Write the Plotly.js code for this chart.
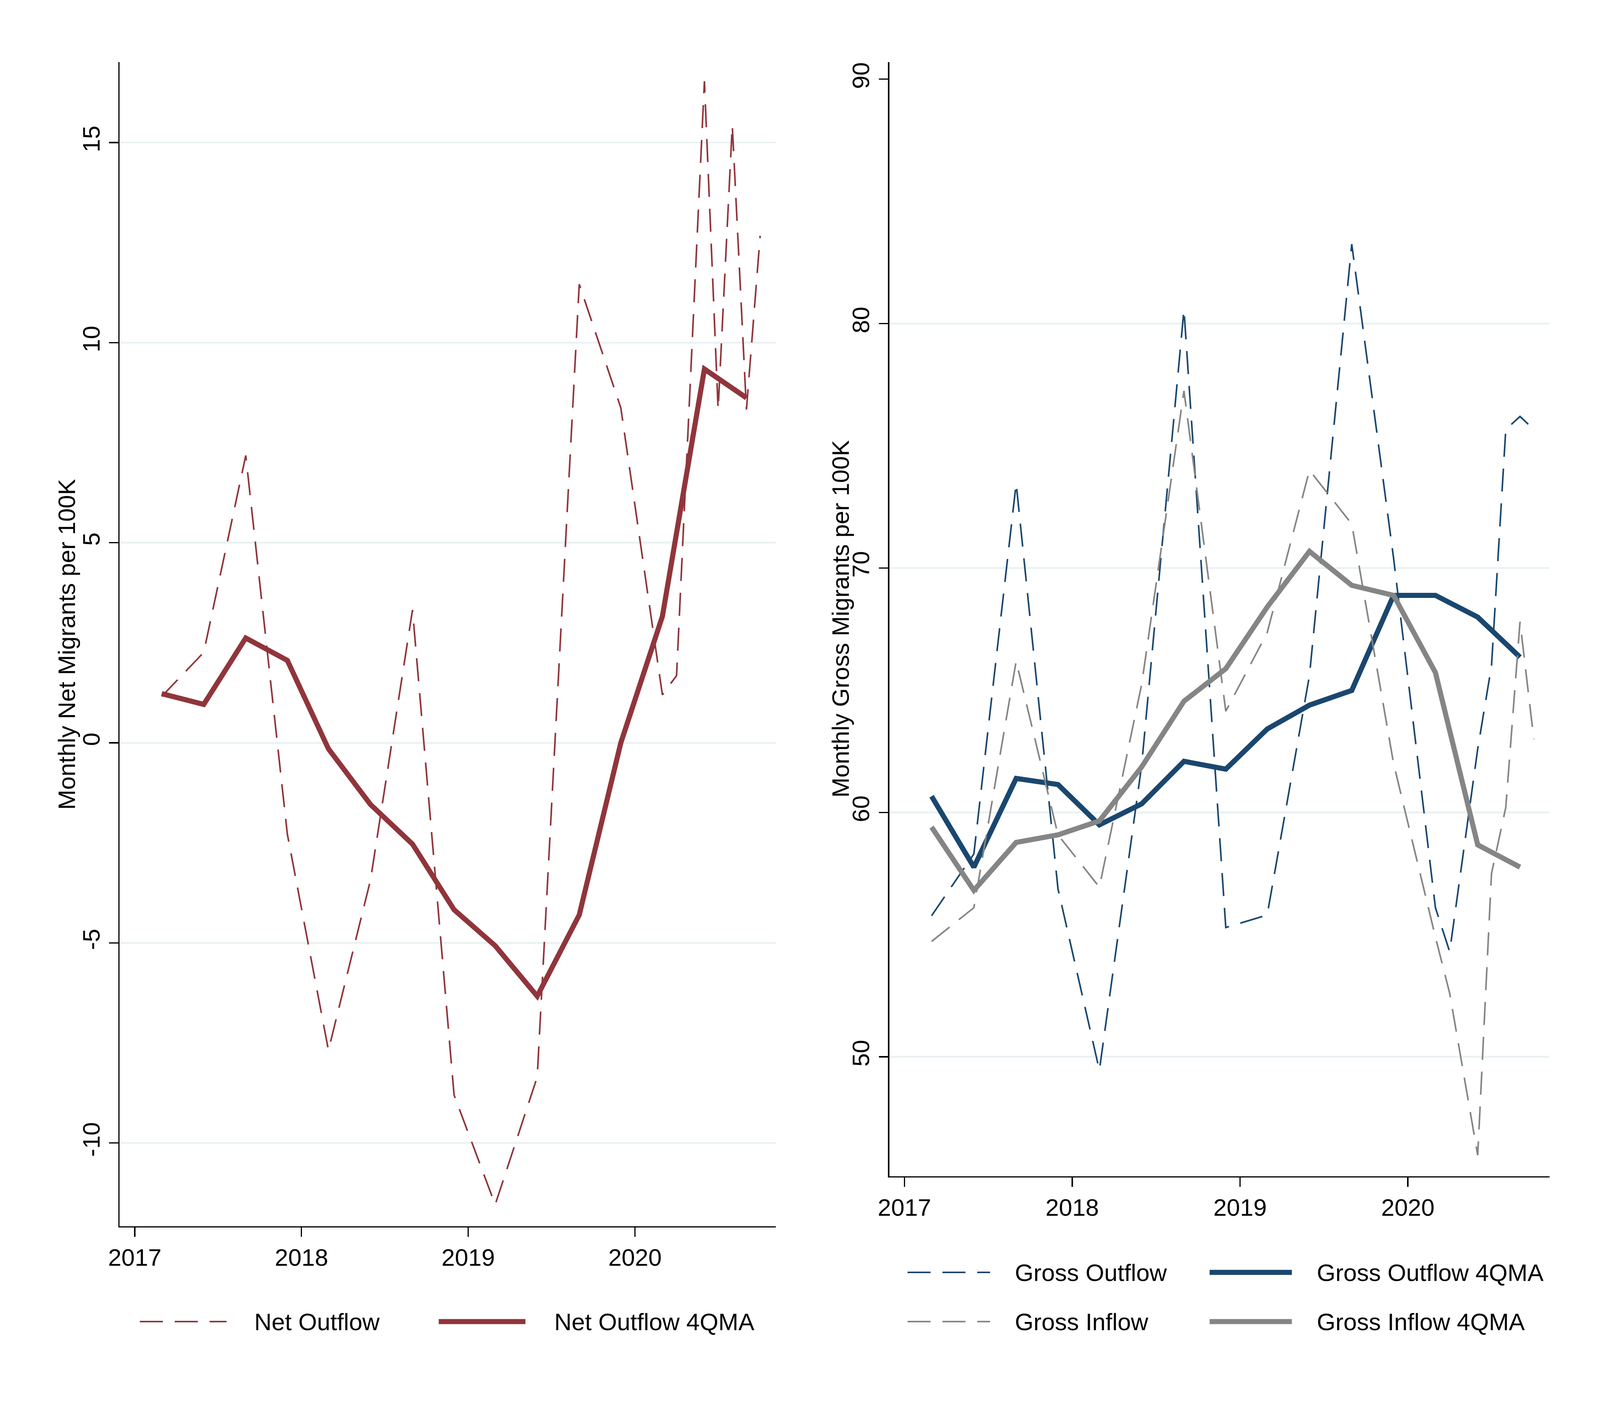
<!DOCTYPE html>
<html>
<head>
<meta charset="utf-8">
<script src="https://cdn.plot.ly/plotly-3.0.1.min.js"></script>
<style>html,body{margin:0;padding:0;background:#fff;overflow:hidden}</style>
</head>
<body>
<div id="chart"></div>
<script>
// quarterly observations, monthly ones during 2020
var rawDates = ['2017-03-01', '2017-06-01', '2017-09-01', '2017-12-01',
    '2018-03-01', '2018-06-01', '2018-09-01', '2018-12-01',
    '2019-03-01', '2019-06-01', '2019-09-01', '2019-12-01',
    '2020-03-01', '2020-04-01', '2020-06-01', '2020-07-01', '2020-08-01', '2020-09-01', '2020-10-01'];
var maDates = ['2017-03-01', '2017-06-01', '2017-09-01', '2017-12-01',
    '2018-03-01', '2018-06-01', '2018-09-01', '2018-12-01',
    '2019-03-01', '2019-06-01', '2019-09-01', '2019-12-01',
    '2020-03-01', '2020-06-01', '2020-09-01'];

var netOutflow = [1.16, 2.26, 7.18, -2.28, -7.68, -3.43, 3.32, -8.80, -11.54, -8.35, 11.46, 8.37,
    1.20, 1.68, 16.53, 8.33, 15.43, 8.33, 12.67];
var netOutflowMA = [1.23, 0.96, 2.62, 2.06, -0.15, -1.54, -2.53, -4.17, -5.07, -6.33, -4.30, 0.00,
    3.16, 9.34, 8.62];

var grossOutflow = [55.77, 58.30, 73.46, 56.87, 49.45, 61.93, 80.57, 55.29, 55.80, 65.60, 83.25, 70.40,
    56.10, 54.30, 62.60, 66.00, 75.67, 76.20, 75.67];
var grossInflow = [54.72, 56.10, 66.19, 59.08, 56.94, 65.24, 77.25, 64.14, 67.35, 74.00, 71.80, 62.00,
    54.90, 52.60, 45.97, 57.50, 60.20, 67.80, 63.00];
var grossOutflowMA = [60.66, 57.76, 61.39, 61.14, 59.49, 60.35, 62.09, 61.77, 63.41, 64.39, 64.99, 68.88,
    68.88, 67.99, 66.35];
var grossInflowMA = [59.40, 56.81, 58.77, 59.08, 59.65, 61.86, 64.55, 65.88, 68.40, 70.68, 69.29, 68.88,
    65.72, 58.67, 57.76];

var yearTicks = ['2017-01-01', '2018-01-01', '2019-01-01', '2020-01-01'];
var yearLabels = ['2017', '2018', '2019', '2020'];
var netTicks = [-10, -5, 0, 5, 10, 15];
var netLabels = ['-10', '-5', '0', '5', '10', '15'];
var grossTicks = [50, 60, 70, 80, 90];
var grossGrid = [50, 60, 70, 80];

// positions below are given on a 5000x3636 sheet, then fitted to the window
var REF_W = 5000, REF_H = 3636;
var W = window.innerWidth || REF_W, H = window.innerHeight || REF_H;
var s = Math.min(W / REF_W, H / REF_H);
document.getElementById('chart').style.width = W + 'px';
document.getElementById('chart').style.height = H + 'px';

var font = 'Liberation Sans, Arial, Helvetica, sans-serif';
var maroon = '#90353B', navy = '#1A476F', grey = '#858585';
var gridColor = '#EAF2F3';
var dash = (72 * s).toFixed(1) + 'px,' + (37 * s).toFixed(1) + 'px';
var thin = 5 * s, thick = 16 * s;

function px(x) { return x / REF_W; }
function py(y) { return 1 - y / REF_H; }

function line(x, y, xa, ya, name, color, width, dashed) {
    return {
        type: 'scatter', mode: 'lines', x: x, y: y, xaxis: xa, yaxis: ya, name: name,
        line: { color: color, width: width, dash: dashed ? dash : 'solid' },
        hoverinfo: 'skip', showlegend: false
    };
}

var data = [
    line(rawDates, netOutflow, 'x', 'y', 'Net Outflow', maroon, thin, true),
    line(maDates, netOutflowMA, 'x', 'y', 'Net Outflow 4QMA', maroon, thick, false),
    line(rawDates, grossOutflow, 'x2', 'y2', 'Gross Outflow', navy, thin, true),
    line(maDates, grossOutflowMA, 'x2', 'y2', 'Gross Outflow 4QMA', navy, thick, false),
    line(rawDates, grossInflow, 'x2', 'y2', 'Gross Inflow', grey, thin, true),
    line(maDates, grossInflowMA, 'x2', 'y2', 'Gross Inflow 4QMA', grey, thick, false)
];

var tickFont = { family: font, size: 75 * s, color: '#000' };

function xAxis(left, right, anchor) {
    return {
        domain: [px(left), px(right)], anchor: anchor, type: 'date',
        range: ['2016-11-29', '2020-11-04'],
        tickmode: 'array', tickvals: yearTicks, ticktext: yearLabels,
        ticks: 'outside', ticklen: 29 * s, tickwidth: 4 * s, tickcolor: '#000',
        showline: true, linecolor: '#000', linewidth: 4 * s,
        showgrid: false, zeroline: false, tickfont: tickFont, fixedrange: true
    };
}

function yAxis(top, bottom, anchor, range, vals, text, grid) {
    return {
        domain: [py(bottom), py(top)], anchor: anchor, range: range,
        tickmode: 'array', tickvals: vals, ticktext: text, tickangle: -90,
        ticks: 'outside', ticklen: 29 * s, tickwidth: 4 * s, tickcolor: '#000',
        showline: true, linecolor: '#000', linewidth: 4 * s,
        showgrid: grid, gridcolor: gridColor, gridwidth: 6 * s,
        zeroline: false, tickfont: tickFont, fixedrange: true
    };
}

// the right panel has no grid line at its top tick
var shapes = grossGrid.map(function (v) {
    return {
        type: 'line', xref: 'x2 domain', x0: 0, x1: 1, yref: 'y2', y0: v, y1: v,
        line: { color: gridColor, width: 6 * s }, layer: 'below'
    };
});

var annotations = [
    {
        text: 'Monthly Net Migrants per 100K', textangle: -90, showarrow: false,
        xref: 'paper', yref: 'paper', x: px(208), y: py(1650), xanchor: 'center', yanchor: 'middle',
        font: tickFont
    },
    {
        text: 'Monthly Gross Migrants per 100K', textangle: -90, showarrow: false,
        xref: 'paper', yref: 'paper', x: px(2626), y: py(1585), xanchor: 'center', yanchor: 'middle',
        font: tickFont
    }
];

// legend keys drawn as long line samples like the original
function legendItem(x0, x1, tx, y, name, color, width, dashed) {
    shapes.push({
        type: 'line', xref: 'paper', yref: 'paper', x0: px(x0), x1: px(x1), y0: py(y), y1: py(y),
        line: { color: color, width: width, dash: dashed ? dash : 'solid' }
    });
    annotations.push({
        text: name, showarrow: false, xref: 'paper', yref: 'paper',
        x: px(tx), y: py(y), xanchor: 'left', yanchor: 'middle', font: tickFont
    });
}

legendItem(437, 708, 792, 3384, 'Net Outflow', maroon, thin, true);
legendItem(1371, 1642, 1730, 3384, 'Net Outflow 4QMA', maroon, thick, false);
legendItem(2836, 3094, 3169, 3258, 'Gross Outflow', navy, thin, true);
legendItem(3780, 4037, 4113, 3258, 'Gross Outflow 4QMA', navy, thick, false);
legendItem(2836, 3094, 3169, 3384, 'Gross Inflow', grey, thin, true);
legendItem(3780, 4037, 4113, 3384, 'Gross Inflow 4QMA', grey, thick, false);

var layout = {
    width: W, height: H,
    margin: { l: 0, r: 0, t: 0, b: 0 },
    paper_bgcolor: '#fff', plot_bgcolor: '#fff',
    showlegend: false,
    font: { family: font, size: 75 * s, color: '#000' },
    xaxis: xAxis(374, 2424, 'y'),
    yaxis: yAxis(159, 3140, 'x', [-12.08, 17.01], netTicks, netLabels, true),
    xaxis2: xAxis(2779, 4842, 'y2'),
    yaxis2: yAxis(159, 3012, 'x2', [45.11, 90.7], grossTicks, grossTicks.map(String), false),
    shapes: shapes,
    annotations: annotations
};

Plotly.newPlot('chart', data, layout, { displayModeBar: false, staticPlot: true });
</script>
</body>
</html>
